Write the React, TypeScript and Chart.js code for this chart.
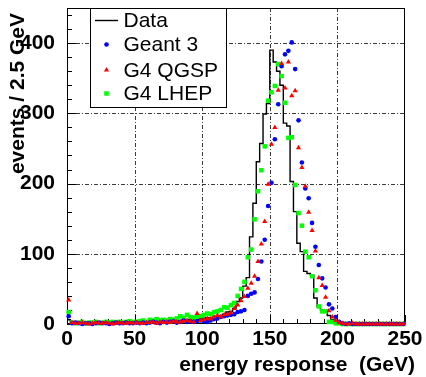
import React, { useEffect, useRef } from 'react';
import { Chart, registerables } from 'chart.js';
import { drawPoint } from 'chart.js/helpers';

Chart.register(...registerables);

// ---------------- data (events per 2.5 GeV bin, bins start at 0 GeV) ----------------
const BIN_WIDTH = 2.5;
const X_MIN = 0;
const X_MAX = 250;
const Y_MIN = 0;
const Y_MAX = 450;
const xTickValues = [0, 50, 100, 150, 200, 250];
const yTickValues = [0, 100, 200, 300, 400];

const seriesLabels = ['Data', 'Geant 3', 'G4 QGSP', 'G4 LHEP'];

const dataCounts = [
  6, 1, 0, 1, 1, 0, 1, 2, 1, 0,
  1, 1, 2, 1, 1, 2, 1, 1, 2, 2,
  1, 2, 2, 3, 2, 3, 3, 2, 4, 3,
  4, 4, 5, 4, 6, 5, 6, 7, 6, 8,
  8, 9, 8, 10, 11, 12, 14, 17, 18, 22,
  32, 37, 54, 66, 124, 172, 231, 257, 299, 314,
  390, 373, 360, 340, 286, 282, 203, 160, 115, 103,
  75, 72, 70, 37, 25, 20, 18, 12, 6, 3,
  1, 1, 0, 0, 0, 0, 0, 0, 0, 0,
  0, 0, 0, 0, 0, 0, 0, 0, 0, 0,
];

const geant3Counts = [
  11, 1, 2, 1, 0, 1, 1, 0, 1, 2,
  1, 1, 0, 1, 2, 1, 1, 2, 1, 1,
  2, 1, 2, 1, 2, 3, 2, 1, 3, 2,
  3, 4, 2, 3, 5, 3, 4, 3, 4, 5,
  4, 3, 5, 7, 8, 10, 11, 12, 13, 14,
  17, 18, 20, 40, 43, 45, 64, 89, 120, 168,
  201, 263, 313, 367, 384, 389, 401, 363, 290, 230,
  193, 179, 144, 110, 84, 65, 52, 28, 22, 10,
  3, 1, 0, 1, 0, 0, 0, 0, 0, 0,
  0, 0, 0, 0, 0, 0, 0, 0, 0, 0,
];

const qgspCounts = [
  34, 2, 1, 1, 2, 1, 0, 1, 2, 1,
  1, 2, 1, 0, 1, 2, 1, 1, 2, 1,
  2, 1, 1, 2, 2, 3, 1, 3, 2, 3,
  2, 4, 3, 3, 4, 5, 4, 3, 15, 5,
  6, 8, 7, 10, 12, 10, 13, 14, 16, 22,
  27, 33, 39, 51, 58, 68, 89, 114, 146, 199,
  256, 280, 333, 371, 336, 373, 325, 332, 251, 223,
  196, 159, 133, 104, 66, 55, 38, 19, 10, 5,
  2, 1, 0, 0, 1, 0, 0, 0, 0, 0,
  0, 0, 0, 0, 0, 0, 0, 0, 0, 0,
];

const lhepCounts = [
  17, 2, 1, 2, 3, 1, 2, 2, 3, 1,
  2, 3, 2, 3, 2, 3, 2, 3, 4, 3,
  3, 4, 5, 3, 6, 5, 7, 5, 6, 5,
  7, 6, 8, 11, 9, 13, 10, 9, 10, 11,
  13, 15, 14, 17, 18, 20, 24, 23, 27, 30,
  40, 50, 60, 95, 106, 149, 189, 219, 253, 318,
  330, 339, 370, 353, 315, 265, 266, 198, 158, 140,
  103, 95, 68, 48, 25, 18, 18, 3, 3, 1,
  1, 0, 0, 0, 0, 0, 0, 0, 0, 0,
  0, 0, 0, 0, 0, 0, 0, 0, 0, 0,
];

const xTitle = 'energy response  (GeV)';
const yTitle = 'events / 2.5 GeV';

// ---------------- helpers ----------------
const FONT = '"Liberation Sans", Arial, Helvetica, sans-serif';

function stepPoints(counts: number[]) {
  const pts = counts.map((v, i) => ({ x: i * BIN_WIDTH, y: v }));
  pts.push({ x: counts.length * BIN_WIDTH, y: counts[counts.length - 1] });
  return pts;
}

function markerPoints(counts: number[]) {
  return counts.map((v, i) => ({ x: (i + 0.5) * BIN_WIDTH, y: v }));
}

// frame, dash-dot grid and inward ticks (ROOT style)
const framePlugin = {
  id: 'rootFrame',
  beforeDatasetsDraw(chart: any) {
    const { ctx, chartArea: a, scales } = chart;
    const xs = scales.x;
    const ys = scales.y;
    ctx.save();
    // grid
    ctx.strokeStyle = '#3a3a3a';
    ctx.lineWidth = 1;
    ctx.setLineDash([4, 2, 1, 2]);
    xTickValues.forEach((v) => {
      if (v <= X_MIN || v >= X_MAX) return;
      const px = Math.round(xs.getPixelForValue(v)) + 0.5;
      ctx.beginPath();
      ctx.moveTo(px, a.top);
      ctx.lineTo(px, a.bottom);
      ctx.stroke();
    });
    yTickValues.forEach((v) => {
      if (v <= Y_MIN || v >= Y_MAX) return;
      const py = Math.round(ys.getPixelForValue(v)) + 0.5;
      ctx.beginPath();
      ctx.moveTo(a.left, py);
      ctx.lineTo(a.right, py);
      ctx.stroke();
    });
    ctx.setLineDash([]);
    // ticks
    ctx.strokeStyle = '#000';
    ctx.lineWidth = 1;
    for (let v = X_MIN; v <= X_MAX; v += 10) {
      const px = Math.round(xs.getPixelForValue(v)) + 0.5;
      const len = v % 50 === 0 ? 9 : 5;
      ctx.beginPath();
      ctx.moveTo(px, a.bottom);
      ctx.lineTo(px, a.bottom - len);
      ctx.stroke();
    }
    for (let v = Y_MIN; v <= Y_MAX; v += 20) {
      const py = Math.round(ys.getPixelForValue(v)) + 0.5;
      const len = v % 100 === 0 ? 9 : 5;
      ctx.beginPath();
      ctx.moveTo(a.left, py);
      ctx.lineTo(a.left + len, py);
      ctx.stroke();
    }
    // frame
    ctx.lineWidth = 1;
    ctx.strokeStyle = '#000';
    ctx.strokeRect(Math.round(a.left) + 0.5, Math.round(a.top) + 0.5,
      Math.round(a.right - a.left) - 1, Math.round(a.bottom - a.top) - 1);
    ctx.restore();
  },
};

// legend box + axis titles
const overlayPlugin = {
  id: 'rootOverlay',
  afterDraw(chart: any) {
    const { ctx, chartArea: a } = chart;
    ctx.save();
    // legend box
    const box = { left: a.left + 23, top: a.top, right: a.left + 159, bottom: a.top + 99 };
    ctx.fillStyle = '#fff';
    ctx.fillRect(box.left, box.top, box.right - box.left, box.bottom - box.top);
    ctx.strokeStyle = '#000';
    ctx.lineWidth = 1;
    ctx.strokeRect(box.left + 0.5, box.top + 0.5, box.right - box.left, box.bottom - box.top);
    const rowY = [box.top + 12.5, box.top + 36.5, box.top + 62, box.top + 85.5];
    const markX = box.left + 16.5;
    const textX = box.left + 33.5;
    chart.data.datasets.forEach((ds: any, i: number) => {
      const y = rowY[i];
      if (ds.type === 'line') {
        ctx.strokeStyle = ds.borderColor;
        ctx.lineWidth = ds.borderWidth;
        ctx.beginPath();
        ctx.moveTo(box.left + 5, y);
        ctx.lineTo(box.left + 28, y);
        ctx.stroke();
      } else {
        ctx.fillStyle = ds.backgroundColor;
        drawPoint(ctx, { pointStyle: ds.pointStyle, radius: ds.pointRadius, borderWidth: 0, rotation: 0 } as any, markX, y);
      }
      ctx.fillStyle = '#000';
      ctx.font = `21px ${FONT}`;
      ctx.textAlign = 'left';
      ctx.textBaseline = 'middle';
      ctx.fillText(ds.label, textX, y + 1);
    });
    // axis titles
    ctx.fillStyle = '#000';
    ctx.font = `bold 21px ${FONT}`;
    ctx.textAlign = 'right';
    ctx.textBaseline = 'alphabetic';
    ctx.fillText(xTitle, a.right + 10, 371);
    ctx.translate(24, a.top + 5);
    ctx.rotate(-Math.PI / 2);
    ctx.fillText(yTitle, 0, 0);
    ctx.restore();
  },
};

export default function App() {
  const canvasRef = useRef<HTMLCanvasElement | null>(null);

  useEffect(() => {
    const canvas = canvasRef.current;
    if (!canvas) return;
    const tickFont = { family: FONT, size: 21, weight: 'bold' as const, lineHeight: 1 };
    const chart = new Chart(canvas, {
      type: 'scatter',
      data: {
        datasets: [
          {
            type: 'line',
            label: seriesLabels[0],
            data: stepPoints(dataCounts),
            stepped: 'before',
            borderColor: '#000',
            borderWidth: 1.4,
            pointRadius: 0,
            fill: false,
            order: 4,
          } as any,
          {
            label: seriesLabels[1],
            data: markerPoints(geant3Counts),
            pointStyle: 'circle',
            pointRadius: 2.3,
            backgroundColor: '#0000ff',
            borderColor: '#0000ff',
            borderWidth: 0,
            order: 2,
            clip: false,
          } as any,
          {
            label: seriesLabels[2],
            data: markerPoints(qgspCounts),
            pointStyle: 'triangle',
            pointRadius: 3,
            backgroundColor: '#ff0000',
            borderColor: '#ff0000',
            borderWidth: 0,
            order: 1,
            clip: false,
          } as any,
          {
            label: seriesLabels[3],
            data: markerPoints(lhepCounts),
            pointStyle: 'rect',
            pointRadius: 3.2,
            backgroundColor: '#00ff00',
            borderColor: '#00ff00',
            borderWidth: 0,
            order: 3,
            clip: false,
          } as any,
        ],
      },
      options: {
        responsive: false,
        maintainAspectRatio: false,
        devicePixelRatio: 1,
        animation: false,
        layout: { padding: { top: 8, right: 21, left: 0, bottom: 0 } },
        plugins: { legend: { display: false }, tooltip: { enabled: false } },
        scales: {
          x: {
            type: 'linear',
            min: X_MIN,
            max: X_MAX,
            afterBuildTicks: (s: any) => { s.ticks = xTickValues.map((v) => ({ value: v })); },
            afterFit: (s: any) => {
              s.height = 53;
              s.paddingLeft = 0; s.paddingRight = 0; s.paddingTop = 0; s.paddingBottom = 0;
            },
            ticks: { font: tickFont, color: '#000', padding: -3.5, maxRotation: 0, autoSkip: false },
            grid: { display: false },
            border: { display: false },
          },
          y: {
            type: 'linear',
            min: Y_MIN,
            max: Y_MAX,
            afterBuildTicks: (s: any) => { s.ticks = yTickValues.map((v) => ({ value: v })); },
            afterFit: (s: any) => {
              s.width = 67;
              s.paddingLeft = 0; s.paddingRight = 0; s.paddingTop = 0; s.paddingBottom = 0;
            },
            ticks: { font: tickFont, color: '#000', padding: 4, autoSkip: false },
            grid: { display: false },
            border: { display: false },
          },
        },
      },
      plugins: [framePlugin, overlayPlugin],
    } as any);
    return () => chart.destroy();
  }, []);

  return (
    <div style={{ position: 'fixed', left: 0, top: 0, width: 426, height: 377, background: '#fff' }}>
      <canvas ref={canvasRef} width={426} height={377} style={{ display: 'block' }} />
    </div>
  );
}
